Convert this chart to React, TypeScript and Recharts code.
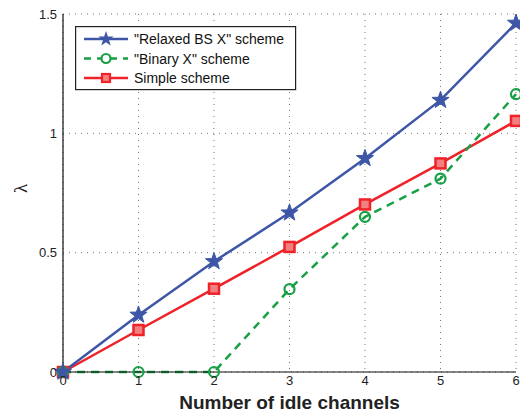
import React from "react";
import { CartesianGrid, Line, LineChart, XAxis, YAxis } from "recharts";

const idleChannels = [0, 1, 2, 3, 4, 5, 6];
const relaxedBsX = [0, 0.239, 0.463, 0.667, 0.895, 1.139, 1.462];
const binaryX = [0, 0, 0, 0.347, 0.65, 0.81, 1.164];
const simple = [0, 0.176, 0.349, 0.524, 0.702, 0.874, 1.052];
const xTicks = [0, 1, 2, 3, 4, 5, 6];
const yTicks = [0, 0.5, 1, 1.5];

const BLUE = "#3d56a6";
const GREEN = "#17a045";
const RED = "#ee2228";
const FONT = "'Liberation Sans', Arial, Helvetica, sans-serif";

const data = idleChannels.map((n, i) => ({
  n,
  relaxed: relaxedBsX[i],
  binary: binaryX[i],
  simple: simple[i],
}));

function starPath(cx: number, cy: number, R: number, r: number) {
  let d = "";
  for (let k = 0; k < 10; k++) {
    const rad = k % 2 === 0 ? R : r;
    const a = -Math.PI / 2 + (k * Math.PI) / 5;
    d += (k === 0 ? "M" : "L") + (cx + rad * Math.cos(a)).toFixed(2) + "," + (cy + rad * Math.sin(a)).toFixed(2);
  }
  return d + "Z";
}

const StarDot = (p: any) => <path key={p.index} d={starPath(p.cx, p.cy, 9, 3.6)} fill={BLUE} stroke={BLUE} strokeWidth={1} />;
const CircleDot = (p: any) => <circle key={p.index} cx={p.cx} cy={p.cy} r={5} fill="none" stroke={GREEN} strokeWidth={2.2} />;
const SquareDot = (p: any) => (
  <rect key={p.index} x={p.cx - 5} y={p.cy - 5} width={10} height={10} fill="#f38080" stroke={RED} strokeWidth={2.5} />
);

const legendItems = [
  { label: "\"Relaxed BS X\" scheme", color: BLUE, dash: undefined, marker: "star" },
  { label: "\"Binary X\" scheme", color: GREEN, dash: "7 6", marker: "circle" },
  { label: "Simple scheme", color: RED, dash: undefined, marker: "square" },
];

// legend box drawn over the plot area, upper left
function LegendBox() {
  return (
    <svg width={222} height={65} style={{ position: "absolute", left: 75, top: 26 }}>
      <rect x={0.6} y={0.6} width={220} height={63} fill="#fff" stroke="#222" strokeWidth={1.2} />
      {legendItems.map((it, i) => {
        const y = 13 + i * 19.5;
        return (
          <g key={it.label}>
            <line x1={9} x2={53} y1={y} y2={y} stroke={it.color} strokeWidth={2.5} strokeDasharray={it.dash} />
            {it.marker === "star" && <path d={starPath(31, y, 8, 3.2)} fill={BLUE} />}
            {it.marker === "circle" && <circle cx={31} cy={y} r={4.5} fill="#fff" stroke={GREEN} strokeWidth={2.2} />}
            {it.marker === "square" && <rect x={27} y={y - 4} width={8} height={8} fill="#f38080" stroke={RED} strokeWidth={2.2} />}
            <text x={59} y={y + 5} fontSize={14} fontFamily={FONT} fill="#111">
              {it.label}
            </text>
          </g>
        );
      })}
    </svg>
  );
}

export default function App() {
  return (
    <div style={{ position: "absolute", left: 0, top: 0, width: 520, height: 415, background: "#fff", overflow: "hidden" }}>
      <LineChart width={520} height={415} data={data} margin={{ top: 14, right: 4, bottom: 0, left: 0 }}>
        <CartesianGrid stroke="#777" strokeDasharray="1 5" />
        <XAxis
          dataKey="n"
          type="number"
          domain={[0, 6]}
          ticks={xTicks}
          height={43}
          axisLine={{ stroke: "#111", strokeWidth: 1.2 }}
          tickLine={false}
          tickSize={2}
          tick={{ fontSize: 13, fontFamily: FONT, fill: "#222" }}
          label={{ value: "Number of idle channels", position: "insideBottom", offset: 6, fontSize: 19, fontWeight: "bold", fontFamily: FONT, fill: "#222" }}
        />
        <YAxis
          type="number"
          domain={[0, 1.5]}
          ticks={yTicks}
          width={63}
          axisLine={{ stroke: "#111", strokeWidth: 1.2 }}
          tickLine={false}
          tickSize={4}
          tick={{ fontSize: 13, fontFamily: FONT, fill: "#222" }}
          label={{ value: "λ", angle: -90, position: "insideLeft", offset: 20, fontSize: 19, fontFamily: "'Liberation Serif', serif", fill: "#222" }}
        />
        <Line dataKey="simple" stroke={RED} strokeWidth={2.5} dot={SquareDot} isAnimationActive={false} />
        <Line dataKey="binary" stroke={GREEN} strokeWidth={2.5} strokeDasharray="8 6" dot={CircleDot} isAnimationActive={false} />
        <Line dataKey="relaxed" stroke={BLUE} strokeWidth={2.5} dot={StarDot} isAnimationActive={false} />
      </LineChart>
      <LegendBox />
    </div>
  );
}
